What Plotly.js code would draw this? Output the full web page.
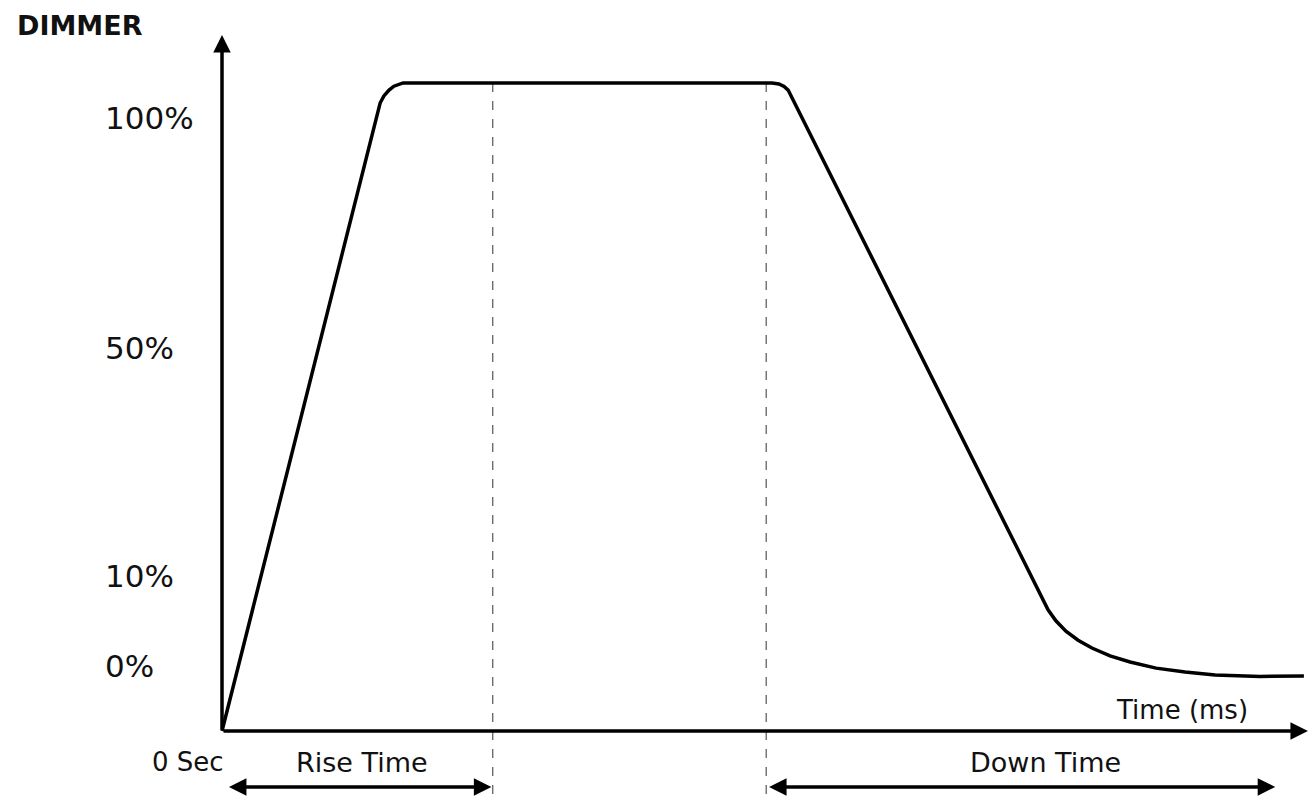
<!DOCTYPE html>
<html>
<head>
<meta charset="utf-8">
<script src="https://cdn.plot.ly/plotly-3.0.1.min.js"></script>
<style>html,body{margin:0;padding:0;background:#fff;}#chart{width:1315px;height:804px;}</style>
</head>
<body>
<div id="chart"></div>
<script>
// Dimmer response curve (time in ms, dimmer level in schematic units)
var timeMs   = [0, 58.4, 59.8, 61.7, 63.5, 66.9, 203.1, 205.7, 207.6, 209.1, 305.1, 308.0, 311.7, 316.2, 321.3, 328.0, 335.4, 345.0, 355.7, 366.8, 383.4, 399.6];
var dimLevel = [0, 96.9, 98.0, 98.9, 99.5, 100, 100, 99.85, 99.46, 98.9, 18.7, 17.0, 15.4, 14.0, 12.8, 11.6, 10.65, 9.7, 9.1, 8.64, 8.41, 8.49];

// Y tick labels and their schematic levels
var tickLabels = ['100%', '50%', '10%', '0%'];
var tickLevels = [94.6, 59.1, 23.9, 10.0];

// Phase markers (ms)
var riseStart = 0, riseEnd = 100;
var downStart = 201, downEnd = 389;
var markerTop = 100, markerBottom = -10.6;
var spanLevel = -8.64;
var axisXEnd = 401.1, axisYEnd = 107.4;

var font = "'DejaVu Sans', Verdana, sans-serif";
var txt = '#111';

var traces = [
  {x: [riseEnd, riseEnd], y: [markerTop, markerBottom], mode: 'lines',
   line: {color: '#555', width: 1.2, dash: 'dash'}, hoverinfo: 'skip'},
  {x: [downStart, downStart], y: [markerTop, markerBottom], mode: 'lines',
   line: {color: '#555', width: 1.2, dash: 'dash'}, hoverinfo: 'skip'},
  {x: timeMs, y: dimLevel, mode: 'lines',
   line: {color: '#000', width: 3.5, shape: 'linear'}, hoverinfo: 'skip'}
];

var ann = [];
// axes with arrows
ann.push({x: 0, y: axisYEnd, ax: 0, ay: 0, xref: 'x', yref: 'y', axref: 'x', ayref: 'y',
  showarrow: true, arrowhead: 2, arrowsize: 1, arrowwidth: 3.5, arrowcolor: '#000', text: ''});
ann.push({x: axisXEnd, y: 0, ax: 0, ay: 0, xref: 'x', yref: 'y', axref: 'x', ayref: 'y',
  showarrow: true, arrowhead: 2, arrowsize: 1, arrowwidth: 3.5, arrowcolor: '#000', text: ''});
// span arrows
ann.push({x: riseEnd - 0.5, y: spanLevel, ax: riseStart + 2, ay: spanLevel, xref: 'x', yref: 'y', axref: 'x', ayref: 'y',
  showarrow: true, arrowhead: 2, startarrowhead: 2, arrowside: 'end+start', arrowsize: 1, arrowwidth: 3.5, arrowcolor: '#000', text: ''});
ann.push({x: downEnd, y: spanLevel, ax: downStart + 0.5, ay: spanLevel, xref: 'x', yref: 'y', axref: 'x', ayref: 'y',
  showarrow: true, arrowhead: 2, startarrowhead: 2, arrowside: 'end+start', arrowsize: 1, arrowwidth: 3.5, arrowcolor: '#000', text: ''});
// y tick labels
for (var i = 0; i < tickLabels.length; i++) {
  ann.push({x: -44, y: tickLevels[i], xref: 'x', yref: 'y', xanchor: 'left', yanchor: 'middle',
    text: tickLabels[i], showarrow: false, font: {family: font, size: 31, color: txt}});
}
ann.push({x: -76.5, y: 108.9, xref: 'x', yref: 'y', xanchor: 'left', yanchor: 'middle',
  text: '<b>DIMMER</b>', showarrow: false, font: {family: font, size: 27, color: txt}});
ann.push({x: 354.6, y: 3.3, xref: 'x', yref: 'y', xanchor: 'center', yanchor: 'middle',
  text: 'Time (ms)', showarrow: false, font: {family: font, size: 26, color: txt}});
ann.push({x: -12.5, y: -4.8, xref: 'x', yref: 'y', xanchor: 'center', yanchor: 'middle',
  text: '0 Sec', showarrow: false, font: {family: font, size: 26, color: txt}});
ann.push({x: 51.7, y: -4.8, xref: 'x', yref: 'y', xanchor: 'center', yanchor: 'middle',
  text: 'Rise Time', showarrow: false, font: {family: font, size: 27, color: txt}});
ann.push({x: 304, y: -4.8, xref: 'x', yref: 'y', xanchor: 'center', yanchor: 'middle',
  text: 'Down Time', showarrow: false, font: {family: font, size: 27, color: txt}});

var layout = {
  width: 1315, height: 804,
  margin: {l: 0, r: 0, t: 0, b: 0},
  paper_bgcolor: '#fff', plot_bgcolor: '#fff',
  showlegend: false,
  xaxis: {range: [-82.0, 403.7], visible: false, fixedrange: true},
  yaxis: {range: [-11.27, 112.8], visible: false, fixedrange: true},
  annotations: ann
};

Plotly.newPlot('chart', traces, layout, {staticPlot: true, displayModeBar: false});
</script>
</body>
</html>
